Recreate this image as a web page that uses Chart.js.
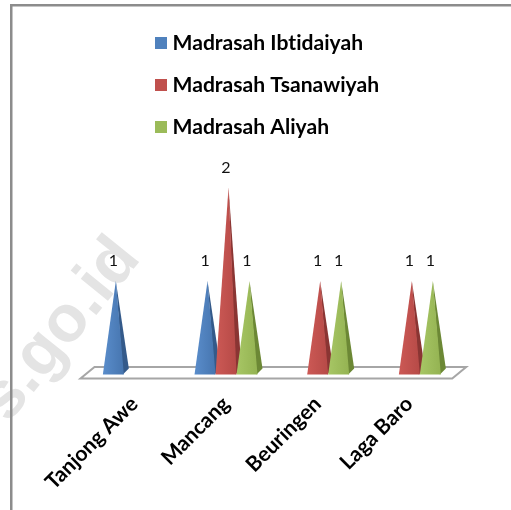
<!DOCTYPE html>
<html><head><meta charset="utf-8">
<style>html,body{margin:0;padding:0;background:#fff;overflow:hidden}canvas{display:block}</style>
<script src="https://cdn.jsdelivr.net/npm/chart.js@4.4.1/dist/chart.umd.min.js"></script>
</head><body><canvas id="c" width="511" height="510"></canvas>
<script>
// ---- data ----
const categories = ['Tanjong Awe', 'Mancang', 'Beuringen', 'Laga Baro'];
const seriesNames = ['Madrasah Ibtidaiyah', 'Madrasah Tsanawiyah', 'Madrasah Aliyah'];
const ibtidaiyah = [1, 1, 0, 0];
const tsanawiyah = [0, 2, 1, 1];
const aliyah = [0, 1, 1, 1];
const watermarkText = 's.go.id';

// ---- styles ----
const FONT = 'Lato, "Open Sans", sans-serif';
const palette = [
  {legend:'#4F81BD', light:'#5A8DCB', dark:'#4675AF', side:'#345A8A'},
  {legend:'#C0504D', light:'#CC5955', dark:'#B64A47', side:'#8A3533'},
  {legend:'#9BBB59', light:'#A7C665', dark:'#94B352', side:'#6C8835'}
];
const mctx = document.createElement('canvas').getContext('2d');
mctx.font = 'bold 100px ' + FONT;
const boldSize = Math.round(100 * 191 / mctx.measureText(seriesNames[0]).width * 10) / 10;

const seriesValues = [ibtidaiyah, tsanawiyah, aliyah];

const pyramidPlugin = {
  id: 'pyramids',
  beforeDraw(chart) {
    const ctx = chart.ctx;
    ctx.save();
    ctx.fillStyle = '#fff';
    ctx.fillRect(0, 0, chart.width, chart.height);
    // watermark
    ctx.translate(8, 424);
    ctx.rotate(-51 * Math.PI / 180);
    ctx.font = 'bold 66px "Liberation Sans", Arial, sans-serif';
    ctx.fillStyle = '#e4e4e4';
    ctx.textBaseline = 'alphabetic';
    ctx.fillText(watermarkText, 0, 0);
    ctx.restore();
    ctx.save();
    ctx.fillStyle = '#8c8c8c';
    ctx.fillRect(10, 4, 2.5, chart.height - 4);
    ctx.fillRect(10, 4, chart.width - 10, 2.5);
    ctx.restore();
  },
  beforeDatasetsDraw(chart) {
    const ctx = chart.ctx;
    const a = chart.chartArea;
    const z = chart.scales.y.getPixelForValue(0);
    ctx.save();
    ctx.beginPath();
    ctx.moveTo(a.left - 8, z + 4);
    ctx.lineTo(a.right - 3, z + 4);
    ctx.lineTo(a.right + 11, z - 7.5);
    ctx.lineTo(a.left + 6, z - 7.5);
    ctx.closePath();
    ctx.fillStyle = '#fff';
    ctx.fill();
    ctx.lineWidth = 2;
    ctx.strokeStyle = '#a6a6a6';
    ctx.stroke();
    ctx.restore();
  },
  afterDatasetsDraw(chart) {
    const ctx = chart.ctx;
    ctx.save();
    chart.data.datasets.forEach((ds, di) => {
      const meta = chart.getDatasetMeta(di);
      const col = palette[di];
      meta.data.forEach((el, i) => {
        const v = ds.data[i];
        if (!v) return;
        const x = el.x, top = el.y, base = el.base, h = el.width / 2;
        const ax = x + 2.5;
        ctx.beginPath();
        ctx.moveTo(x + h - 1, base);
        ctx.lineTo(x + h + 5, base - 6);
        ctx.lineTo(ax, top);
        ctx.closePath();
        ctx.fillStyle = col.side;
        ctx.fill();
        const g = ctx.createLinearGradient(x - h, 0, x + h, 0);
        g.addColorStop(0, col.light);
        g.addColorStop(1, col.dark);
        ctx.beginPath();
        ctx.moveTo(x - h, base);
        ctx.lineTo(x + h, base);
        ctx.lineTo(ax, top);
        ctx.closePath();
        ctx.fillStyle = g;
        ctx.fill();
      });
    });
    ctx.font = '16px ' + FONT;
    ctx.fillStyle = '#111';
    ctx.textAlign = 'center';
    ctx.textBaseline = 'middle';
    chart.data.datasets.forEach((ds, di) => {
      const meta = chart.getDatasetMeta(di);
      meta.data.forEach((el, i) => {
        const v = ds.data[i];
        if (!v) return;
        ctx.fillText(String(v), el.x, el.y - 20);
      });
    });
    ctx.restore();
  },
  afterDraw(chart) {
    const ctx = chart.ctx;
    ctx.save();
    ctx.font = 'bold ' + boldSize + 'px ' + FONT;
    if ('letterSpacing' in ctx) ctx.letterSpacing = '0.01px';
    ctx.textAlign = 'left';
    ctx.textBaseline = 'middle';
    chart.data.datasets.forEach((ds, di) => {
      const cy = 43 + di * 42;
      ctx.fillStyle = palette[di].legend;
      ctx.fillRect(155, cy - 6, 12, 12);
      ctx.fillStyle = '#000';
      ctx.fillText(ds.label, 172.5, cy + 0.5);
    });
    ctx.restore();
  }
};

new Chart(document.getElementById('c'), {
  type: 'bar',
  data: {
    labels: categories,
    datasets: seriesNames.map((n, i) => ({
      label: n,
      data: seriesValues[i],
      backgroundColor: 'rgba(0,0,0,0)',
      borderWidth: 0
    }))
  },
  options: {
    responsive: false,
    animation: false,
    layout: {padding: {left: 88.5, right: 55.8, top: 140.75, bottom: 0}},
    datasets: {bar: {barPercentage: 1, categoryPercentage: 0.687}},
    plugins: {legend: {display: false}, tooltip: {enabled: false}},
    scales: {
      x: {
        offset: true,
        grid: {display: false, drawTicks: false},
        border: {display: false},
        ticks: {
          autoSkip: false, minRotation: 45, maxRotation: 45, padding: 17,
          color: '#000', font: {family: FONT, weight: 'bold', size: boldSize}
        },
        afterFit(s) { s.height = 135.5; }
      },
      y: {display: false, min: 0, max: 2.5}
    }
  },
  plugins: [pyramidPlugin]
});
</script>
</body></html>
